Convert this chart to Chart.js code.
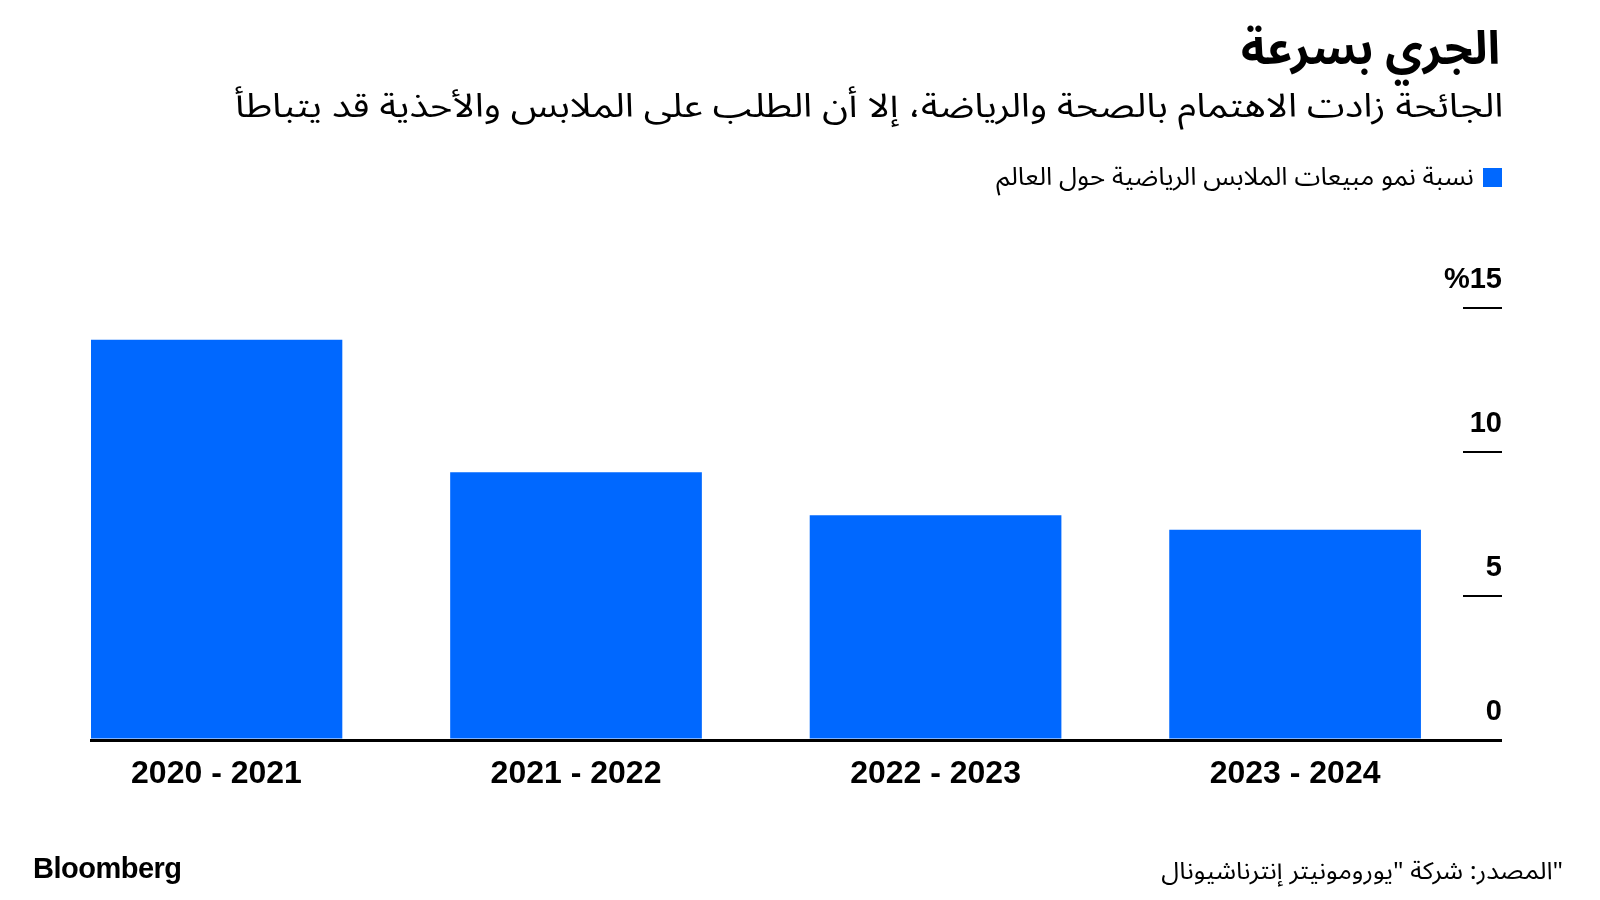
<!DOCTYPE html>
<html lang="ar">
<head>
<meta charset="utf-8">
<script src="https://cdn.jsdelivr.net/npm/chart.js@4.4.1/dist/chart.umd.min.js"></script>
<style>
  body { margin: 0; background: #fff; }
  #wrap { position: relative; width: 1600px; height: 900px; overflow: hidden; }
  #chart { position: absolute; left: 0; top: 0; }
  .txt { position: absolute; white-space: nowrap; color: #000; }
  .ar { direction: rtl; font-family: "Noto Sans Arabic", "DejaVu Sans", sans-serif; transform-origin: right center; }
  #title { right: 100px; top: 21px; font-size: 46px; line-height: 58px; font-weight: bold; }
  #subtitle { right: 97px; top: 86px; font-size: 33px; line-height: 42px; transform: scaleX(1.16); }
  #legend { right: 126px; top: 161px; font-size: 25px; line-height: 32px; transform: scaleX(1.05); }
  #legendBox { position: absolute; left: 1483px; top: 168px; width: 19px; height: 19px; background: #0068ff; }
  #brand { left: 33px; top: 851px; font-family: "Liberation Sans", Arial, sans-serif; font-weight: bold; font-size: 29px; line-height: 34px; letter-spacing: -0.5px; }
  #source { right: 37px; top: 856px; font-size: 24px; line-height: 32px; transform: scaleX(1.08); }
</style>
</head>
<body>
<div id="wrap">
  <canvas id="chart" width="1600" height="900"></canvas>
  <div id="title" class="txt ar">الجري بسرعة</div>
  <div id="subtitle" class="txt ar">الجائحة زادت الاهتمام بالصحة والرياضة، إلا أن الطلب على الملابس والأحذية قد يتباطأ</div>
  <div id="legendBox"></div>
  <div id="legend" class="txt ar">نسبة نمو مبيعات الملابس الرياضية حول العالم</div>
  <div id="brand" class="txt">Bloomberg</div>
  <div id="source" class="txt ar">"المصدر: شركة "يورومونيتر إنترناشيونال</div>
</div>
<script>
// chart values
const categories = ['2020 - 2021', '2021 - 2022', '2022 - 2023', '2023 - 2024'];
const growth = [13.9, 9.3, 7.8, 7.3];
const yTicks = [0, 5, 10, 15];

const barColor = '#0068ff';

function createChart() {
    const ctx = document.getElementById('chart').getContext('2d');
    new Chart(ctx, {
        type: 'bar',
        data: {
            datasets: [{
                label: 'نسبة نمو مبيعات الملابس الرياضية حول العالم',
                data: categories.map((c, i) => ({ x: i, y: growth[i] })),
                backgroundColor: barColor,
                borderWidth: 0,
                categoryPercentage: 1,
                barPercentage: 0.7
            }]
        },
        options: {
            responsive: false,
            animation: false,
            layout: {
                padding: { left: 91, right: 98, top: 308, bottom: 100 }
            },
            plugins: {
                legend: { display: false },
                tooltip: { enabled: false }
            },
            scales: {
                x: {
                    type: 'linear',
                    offset: false,
                    bounds: 'data',
                    min: -0.349,
                    max: 3.467,
                    afterBuildTicks: (scale) => {
                        scale.ticks = categories.map((c, i) => ({ value: i }));
                    },
                    afterFit: (scale) => { scale.height = 60; },
                    grid: { display: false, drawTicks: false },
                    border: { display: true, color: '#000', width: 3 },
                    ticks: {
                        callback: (value) => categories[value],
                        color: '#000',
                        padding: 15,
                        maxRotation: 0,
                        autoSkip: false,
                        font: { family: 'Liberation Sans, Arial, sans-serif', size: 32, weight: 'bold' }
                    }
                },
                y: {
                    position: 'right',
                    min: 0,
                    max: 15,
                    afterBuildTicks: (scale) => {
                        scale.ticks = yTicks.map(v => ({ value: v }));
                    },
                    afterFit: (scale) => { scale.width = 39; },
                    grid: {
                        drawOnChartArea: false,
                        drawTicks: true,
                        tickLength: 39,
                        color: '#000',
                        lineWidth: (c) => (c.tick && c.tick.value === 0 ? 3 : 2)
                    },
                    border: { display: false },
                    ticks: {
                        mirror: true,
                        padding: 39,
                        labelOffset: -28,
                        color: '#000',
                        callback: (value) => (value === 15 ? '%15' : String(value)),
                        font: { family: 'Liberation Sans, Arial, sans-serif', size: 29, weight: 'bold' }
                    }
                }
            }
        }
    });
}

createChart();
</script>
</body>
</html>
